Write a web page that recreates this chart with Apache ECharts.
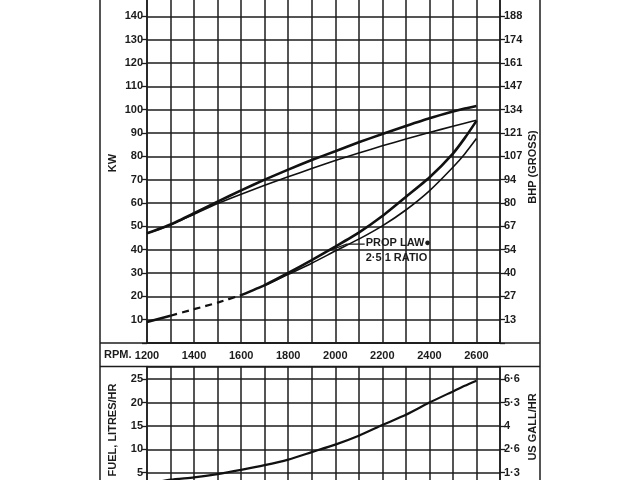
<!DOCTYPE html>
<html><head><meta charset="utf-8">
<script src="https://cdn.jsdelivr.net/npm/echarts@6/dist/echarts.min.js"></script>
<style>html,body{margin:0;padding:0;background:#fff;overflow:hidden;width:640px;height:480px}#c{position:absolute;left:0;top:-7px;width:640px;height:503px}</style>
</head><body><div id="c"></div>
<script>
// ---- data ----
const rpm = [1200,1300,1400,1500,1600,1700,1800,1900,2000,2100,2200,2300,2400,2500,2550,2600];
const powerMax = [47,50.8,55.6,60.6,65.4,70.0,74.3,78.4,82.2,86.0,89.6,93.0,96.3,99.2,100.5,101.6];
const powerCont = [47,50.6,55.2,59.8,63.8,67.6,71.2,74.8,78.2,81.4,84.5,87.4,90.2,92.9,94.2,95.5];
const propLaw = [9,11.7,null,null,20.5,24.8,30.0,35.5,41.3,47.3,54.4,62.6,70.9,81.2,87.8,95.2];
const propLawDash = [null,11.7,14.5,17.3,20.5,null,null,null,null,null,null,null,null,null,null,null];
const propLaw2 = [null,null,null,null,null,24.6,29.4,34.2,39.4,44.5,50.2,57.0,65.2,75.3,81.0,87.6];
const fuel = [2.6,3.5,4.0,4.7,5.6,6.6,7.8,9.4,11.0,12.9,15.2,17.4,20.0,22.4,23.6,24.7];
const rpmTickLabels = [1200,1400,1600,1800,2000,2200,2400,2600];
const kwTicks = [10,20,30,40,50,60,70,80,90,100,110,120,130,140];
const bhpTicks = ['13','27','40','54','67','80','94','107','121','134','147','161','174','188'];
const fuelTicks = [5,10,15,20,25];
const gallTicks = ['1·3','2·6','4','5·3','6·6'];

const OFF = 7; // chart canvas starts 7px above the page
const FONT = 'Liberation Sans';
const INK = '#1c1c1c';
const lab = {fontFamily: FONT, fontSize: 11, fontWeight: 'bold', color: INK};
const gridLine = {show: true, lineStyle: {color: INK, width: 1.5}};
const axLine = {show: true, lineStyle: {color: INK, width: 1.5}};
const tick = {show:true, length:5, lineStyle:{color:INK,width:1.3}};

function pairs(arr){ return rpm.map((x,i)=>[x,arr[i]]); }

const chart = echarts.init(document.getElementById('c'), null, {renderer:'canvas'});
const option = {
  animation: false,
  backgroundColor: '#fff',
  grid: [
    {left: 147, right: 140, top: 0, bottom: 503 - (343 + OFF)},
    {left: 147, right: 140, top: 366.5 + OFF, bottom: 0}
  ],
  xAxis: [
    {gridIndex:0, type:'value', min:1200, max:2700, interval:100,
     axisLine: axLine, axisTick:{show:false}, splitLine: gridLine,
     axisLabel: Object.assign({}, lab, {margin: 7, showMaxLabel:false,
       formatter: v => rpmTickLabels.includes(v) ? String(v) : ''})},
    {gridIndex:1, type:'value', min:1200, max:2700, interval:100, position:'top',
     axisLine: axLine, axisTick:{show:false}, splitLine: gridLine, axisLabel:{show:false}}
  ],
  yAxis: [
    {gridIndex:0, type:'value', min:0, max:150, interval:10, position:'left',
     axisLine: axLine, axisTick: tick, splitLine: gridLine,
     axisLabel: Object.assign({}, lab, {margin: 4, formatter: v => kwTicks.includes(v) ? String(v) : ''})},
    {gridIndex:0, type:'value', min:0, max:150, interval:10, position:'right',
     axisLine: axLine, axisTick: tick, splitLine:{show:false},
     axisLabel: Object.assign({}, lab, {margin: 4, formatter: v => { const i = kwTicks.indexOf(v); return i>=0 ? bhpTicks[i] : ''; }})},
    {gridIndex:1, type:'value', min:0, max:27.73, interval:5, position:'left',
     axisLine: axLine, axisTick: tick, splitLine: gridLine,
     axisLabel: Object.assign({}, lab, {margin: 4, showMaxLabel:false, formatter: v => fuelTicks.includes(v) ? String(v) : ''})},
    {gridIndex:1, type:'value', min:0, max:27.73, interval:5, position:'right',
     axisLine: axLine, axisTick: tick, splitLine:{show:false},
     axisLabel: Object.assign({}, lab, {margin: 4, showMaxLabel:false, formatter: v => { const i = fuelTicks.indexOf(v); return i>=0 ? gallTicks[i] : ''; }})}
  ],
  series: [
    {type:'line', xAxisIndex:0, yAxisIndex:0, data: pairs(powerMax), smooth:0.2, showSymbol:false, lineStyle:{color:'#111', width:2.6}},
    {type:'line', xAxisIndex:0, yAxisIndex:0, data: pairs(powerCont), smooth:0.2, showSymbol:false, lineStyle:{color:'#111', width:1.6}},
    {type:'line', xAxisIndex:0, yAxisIndex:0, data: pairs(propLaw), smooth:0.2, showSymbol:false, connectNulls:false, lineStyle:{color:'#111', width:2.6}},
    {type:'line', xAxisIndex:0, yAxisIndex:0, data: pairs(propLawDash), smooth:0.2, showSymbol:false, lineStyle:{color:'#111', width:2.2, type:[7,5]}},
    {type:'line', xAxisIndex:0, yAxisIndex:0, data: pairs(propLaw2), smooth:0.2, showSymbol:false, lineStyle:{color:'#111', width:1.6}},
    {type:'line', xAxisIndex:1, yAxisIndex:2, data: pairs(fuel), smooth:0.2, showSymbol:false, lineStyle:{color:'#111', width:2.2}}
  ]
};
chart.setOption(option);

// annotation and frame (layout)
const p1 = chart.convertToPixel({gridIndex:0}, [2125, 42.4]);
const p2 = chart.convertToPixel({gridIndex:0}, [2048, 42.4]);
const p3 = chart.convertToPixel({gridIndex:0}, [1975, 39.6]);
const f = 'bold 11px "Liberation Sans"';
chart.setOption({graphic: [
  {type:'line', shape:{x1:100,y1:0,x2:100,y2:503}, style:{stroke:INK, lineWidth:1.5}},
  {type:'line', shape:{x1:540,y1:0,x2:540,y2:503}, style:{stroke:INK, lineWidth:1.5}},
  {type:'line', shape:{x1:100,y1:343+OFF,x2:540,y2:343+OFF}, style:{stroke:INK, lineWidth:1.5}},
  {type:'line', shape:{x1:100,y1:366.5+OFF,x2:540,y2:366.5+OFF}, style:{stroke:INK, lineWidth:1.5}},
  {type:'text', left:104, top:349+OFF, style:{text:'RPM.', font:f, fill:INK}},
  {type:'text', x:113, y:163+OFF, rotation:Math.PI/2, style:{text:'KW', font:f, fill:INK, align:'center', verticalAlign:'middle'}},
  {type:'text', x:533, y:167+OFF, rotation:Math.PI/2, style:{text:'BHP (GROSS)', font:f, fill:INK, align:'center', verticalAlign:'middle'}},
  {type:'text', x:113, y:430+OFF, rotation:Math.PI/2, style:{text:'FUEL, LITRES/HR', font:f, fill:INK, align:'center', verticalAlign:'middle'}},
  {type:'text', x:533, y:427+OFF, rotation:Math.PI/2, style:{text:'US GALL/HR', font:f, fill:INK, align:'center', verticalAlign:'middle'}},
  {type:'polyline', shape:{points:[p1,p2,p3]}, style:{stroke:INK, lineWidth:1.2, fill:null}},
  {type:'text', x:p1[0]+1, y:p1[1]-1, style:{text:'PROP LAW●', font:f, fill:INK, verticalAlign:'middle'}},
  {type:'text', x:p1[0]+1, y:p1[1]+14, style:{text:'2·5 1 RATIO', font:f, fill:INK, verticalAlign:'middle'}}
]});
</script></body></html>
